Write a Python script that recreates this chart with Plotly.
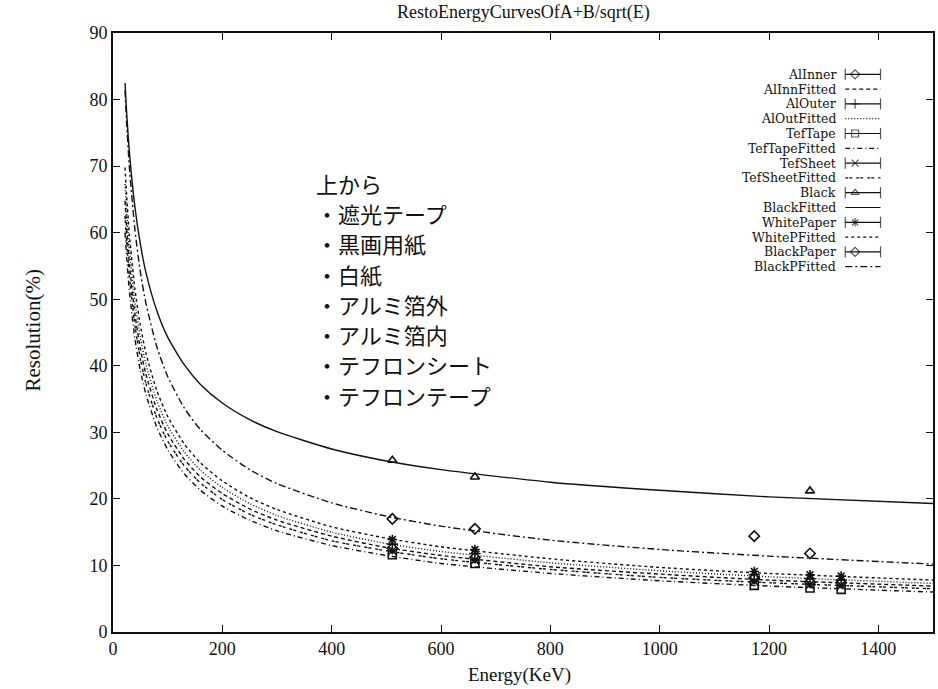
import plotly.graph_objects as go

# ---- measured points (energy in keV, resolution in %) ----
E_cluster = [511, 662, 1173, 1275, 1332]
E_black = [511, 662, 1275]
E_blackp = [511, 662, 1173, 1275]

al_inner = [12.6, 11.2, 8.1, 7.5, 7.4]
al_outer = [13.2, 11.8, 8.6, 8.0, 7.8]
tef_tape = [11.6, 10.3, 7.0, 6.6, 6.4]
tef_sheet = [12.2, 10.8, 7.6, 7.1, 7.0]
white_paper = [13.9, 12.4, 9.1, 8.6, 8.4]
black = [25.8, 23.3, 21.2]
black_paper = [17.0, 15.5, 14.4, 11.8]

# ---- fitted curves A+B/sqrt(E), sampled values ----
E_fit = [22, 25, 30, 40, 50, 60, 80, 100, 130, 160, 200, 250, 300, 400,
         500, 600, 800, 1000, 1200, 1500]
al_inn_fit = [64.8, 60.7, 55.3, 47.8, 42.6, 38.8, 33.5, 29.8, 26.0, 23.3,
              20.8, 18.5, 16.8, 14.4, 12.7, 11.5, 9.8, 8.7, 7.8, 6.9]
al_out_fit = [67.3, 63.0, 57.5, 49.6, 44.3, 40.3, 34.8, 31.0, 27.1, 24.3,
              21.7, 19.3, 17.5, 15.0, 13.3, 12.1, 10.4, 9.2, 8.3, 7.3]
tef_tape_fit = [60.0, 56.2, 51.2, 44.1, 39.3, 35.8, 30.8, 27.4, 23.8, 21.3,
                18.9, 16.8, 15.2, 13.0, 11.5, 10.3, 8.8, 7.7, 6.9, 6.0]
tef_sheet_fit = [62.5, 58.6, 53.4, 46.1, 41.1, 37.4, 32.2, 28.7, 25.0, 22.4,
                 19.9, 17.7, 16.1, 13.7, 12.2, 11.0, 9.4, 8.2, 7.4, 6.5]
black_fit = [82.5, 78.0, 72.1, 63.9, 58.3, 54.1, 48.3, 44.3, 40.2, 37.2,
             34.4, 31.9, 30.1, 27.5, 25.7, 24.4, 22.5, 21.3, 20.3, 19.3]
white_p_fit = [69.8, 65.5, 59.7, 51.6, 46.1, 42.0, 36.3, 32.4, 28.3, 25.4,
               22.7, 20.2, 18.4, 15.8, 14.1, 12.8, 11.0, 9.7, 8.8, 7.8]
black_p_fit = [81.4, 76.4, 69.8, 60.5, 54.1, 49.5, 42.9, 38.4, 33.7, 30.4,
               27.3, 24.4, 22.3, 19.4, 17.4, 15.9, 13.8, 12.4, 11.4, 10.2]

x_ticks = [0, 200, 400, 600, 800, 1000, 1200, 1400]
y_ticks = [0, 10, 20, 30, 40, 50, 60, 70, 80, 90]

ink = "#111111"
serif = "Liberation Serif"
key_font = "DejaVu Serif"

# (label, kind, style) ; kind "pt" -> marker symbol, "fit" -> dash pattern
series = [
    ("AlInner", "pt", "diamond-open", E_cluster, al_inner),
    ("AlInnFitted", "fit", "4px,3px", E_fit, al_inn_fit),
    ("AlOuter", "pt", "cross-thin", E_cluster, al_outer),
    ("AlOutFitted", "fit", "1px,2px", E_fit, al_out_fit),
    ("TefTape", "pt", "square-open", E_cluster, tef_tape),
    ("TefTapeFitted", "fit", "5px,3px,1px,3px", E_fit, tef_tape_fit),
    ("TefSheet", "pt", "x-thin", E_cluster, tef_sheet),
    ("TefSheetFitted", "fit", "3px,1px,3px,4px", E_fit, tef_sheet_fit),
    ("Black", "pt", "triangle-up-open", E_black, black),
    ("BlackFitted", "fit", "solid", E_fit, black_fit),
    ("WhitePaper", "pt", "asterisk-open", E_cluster, white_paper),
    ("WhitePFitted", "fit", "3px,3px", E_fit, white_p_fit),
    ("BlackPaper", "pt", "diamond-open", E_blackp, black_paper),
    ("BlackPFitted", "fit", "7px,3px,2px,3px", E_fit, black_p_fit),
]

fig = go.Figure()

for name, kind, style, xs, ys in series:
    if kind == "pt":
        fig.add_trace(go.Scatter(
            x=xs, y=ys, mode="markers", name=name, showlegend=False,
            marker=dict(symbol=style, size=8, color=ink,
                        line=dict(color=ink, width=1.6)),
        ))
    else:
        fig.add_trace(go.Scatter(
            x=xs, y=ys, mode="lines", name=name, showlegend=False,
            line=dict(color=ink, width=1.4, dash=style, shape="spline",
                      smoothing=0.6),
        ))

# key drawn on an overlay axis spanning the whole plot area
key_x0, key_xm, key_x1 = 0.893, 0.905, 0.936
row0, row_step = 0.931, 0.0247
annotations = []
for i, (name, kind, style, _, _) in enumerate(series):
    yk = row0 - i * row_step
    annotations.append(dict(
        xref="paper", yref="paper", x=0.884, y=yk, text=name,
        showarrow=False, xanchor="right", yanchor="middle",
        font=dict(family=key_font, size=12.5, color=ink),
    ))
    if kind == "pt":
        fig.add_trace(go.Scatter(
            x=[key_x0, key_xm, key_x1], y=[yk, yk, yk], xaxis="x2",
            yaxis="y2", mode="lines+markers", showlegend=False,
            hoverinfo="skip",
            line=dict(color=ink, width=1.2),
            marker=dict(symbol=["line-ns", style, "line-ns"],
                        size=[8, 7, 8], color=ink,
                        line=dict(color=ink, width=1.2)),
        ))
    else:
        fig.add_trace(go.Scatter(
            x=[key_x0, key_x1], y=[yk, yk], xaxis="x2", yaxis="y2",
            mode="lines", showlegend=False, hoverinfo="skip",
            line=dict(color=ink, width=1.2, dash=style),
        ))

# material ordering note
note_lines = ["上から", "・遮光テープ", "・黒画用紙", "・白紙", "・アルミ箔外",
              "・アルミ箔内", "・テフロンシート", "・テフロンテープ"]
for i, txt in enumerate(note_lines):
    annotations.append(dict(
        xref="paper", yref="paper", x=0.245, y=0.7496 - i * 0.0505,
        text=txt, showarrow=False, xanchor="left", yanchor="middle",
        font=dict(family="Noto Sans CJK JP", size=22, color=ink),
    ))

annotations += [
    dict(xref="paper", yref="paper", x=0.5, y=1.035,
         text="RestoEnergyCurvesOfA+B/sqrt(E)", showarrow=False,
         xanchor="center", yanchor="middle",
         font=dict(family=serif, size=18, color=ink)),
    dict(xref="paper", yref="paper", x=0.496, y=-0.072,
         text="Energy(KeV)", showarrow=False, xanchor="center",
         yanchor="middle", font=dict(family=serif, size=19, color=ink)),
    dict(xref="paper", yref="paper", x=-0.097, y=0.504,
         text="Resolution(%)", showarrow=False, textangle=-90,
         xanchor="center", yanchor="middle",
         font=dict(family=serif, size=21, color=ink)),
]

axis_common = dict(
    showgrid=False, zeroline=False, showline=True, linecolor=ink,
    linewidth=1.6, mirror="ticks", ticks="inside", ticklen=7,
    tickcolor=ink, tickwidth=1.4,
    tickfont=dict(family=serif, size=18, color=ink),
)

fig.update_layout(
    width=938, height=689,
    margin=dict(l=113, r=3, t=33, b=57),
    paper_bgcolor="white", plot_bgcolor="white",
    xaxis=dict(range=[0, 1500], tickvals=x_ticks, **axis_common),
    yaxis=dict(range=[0, 90], tickvals=y_ticks, **axis_common),
    xaxis2=dict(range=[0, 1], overlaying="x", visible=False,
                fixedrange=True),
    yaxis2=dict(range=[0, 1], overlaying="y", visible=False,
                fixedrange=True),
    annotations=annotations,
    showlegend=False,
)

fig.write_html("out.html")
